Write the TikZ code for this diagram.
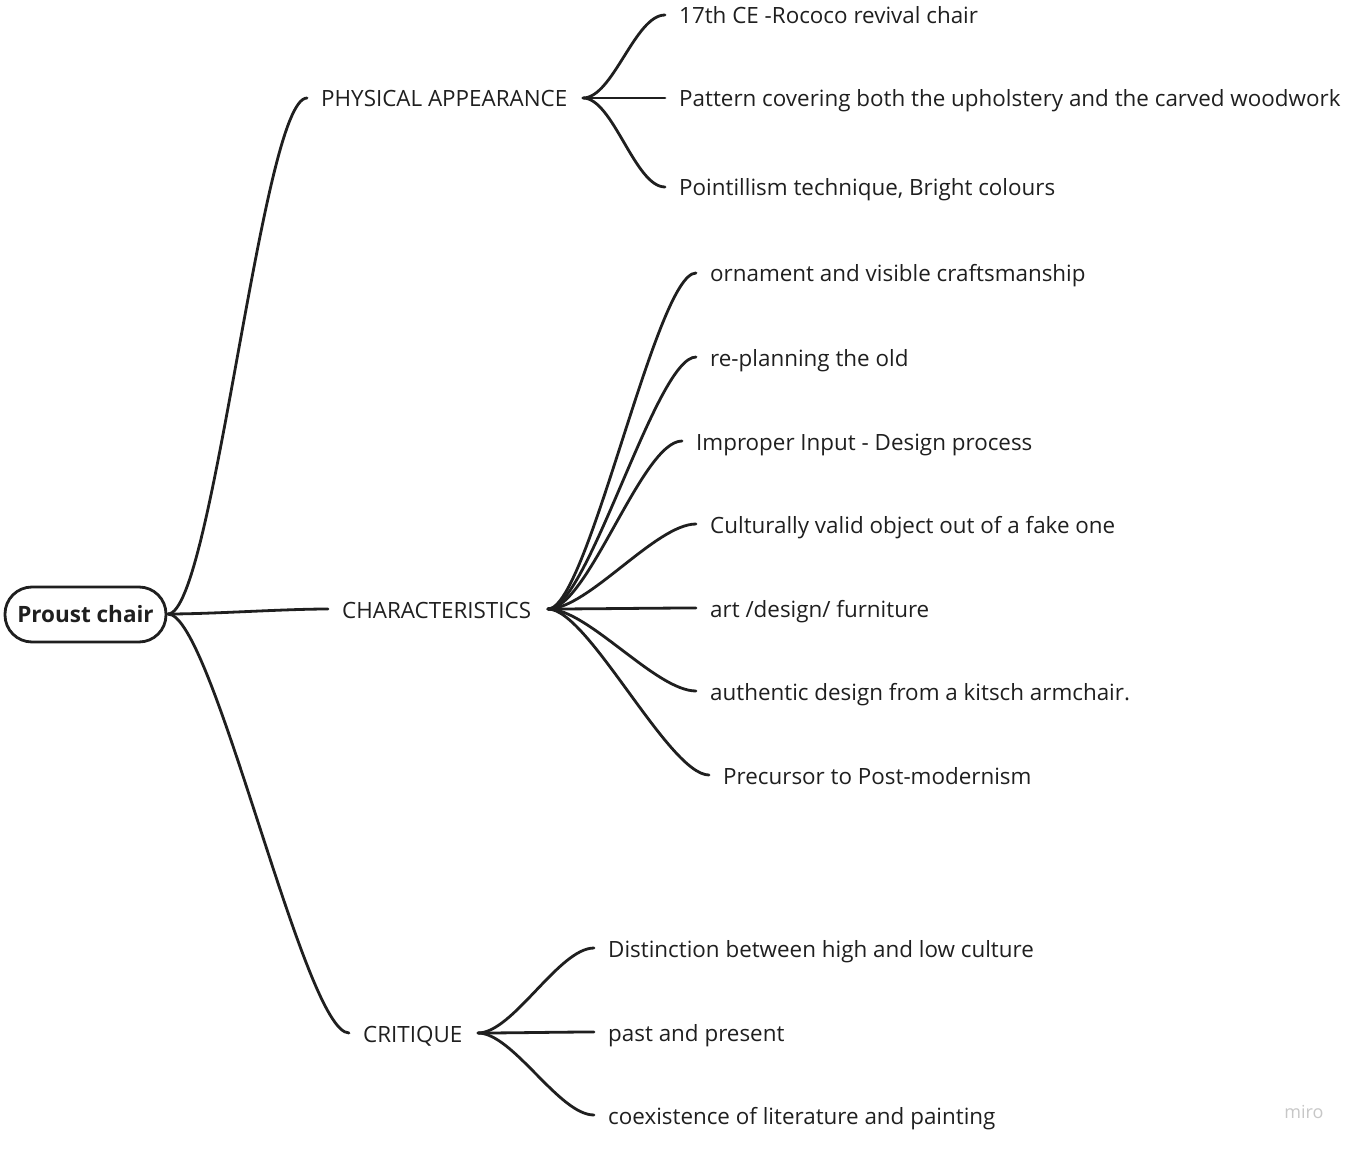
\documentclass[tikz,border=0pt]{standalone}
\usepackage{fontspec}
\setmainfont{Open Sans}
\usetikzlibrary{calc}
\definecolor{ink}{HTML}{1F1F1F}
\tikzset{
  x=1pt,y=-1pt,
  root/.style={draw=ink,line width=2.8pt,rounded corners=27pt,minimum width=161pt,minimum height=55pt,inner sep=0pt,font=\fontsize{22.5}{26}\selectfont\bfseries,text=ink},
  lvl/.style={anchor=west,inner xsep=14pt,inner ysep=0pt,font=\fontsize{22.4}{26}\selectfont,text=ink,text height=22.4pt,text depth=4.4pt},
  link/.style={draw=ink,line width=2.8pt,line cap=round},
}
\newcommand{\conn}[3][40]{\draw[link] (#2) .. controls ($(#2)+(#1,0)$) and ($(#3)-(#1,0)$) .. (#3);}
\begin{document}
\begin{tikzpicture}
\useasboundingbox (0,0) rectangle (1357,1150);
\node[root] (root) at (85.5,614.5) {Proust chair};
\coordinate (rootE) at (168,614);

\node[lvl] (pa) at (307,98) {PHYSICAL APPEARANCE};
\node[lvl] (ch) at (328,609) {CHARACTERISTICS};
\node[lvl] (cr) at (349,1033) {CRITIQUE};

\node[lvl] (pa1) at (665,15) {17th CE -Rococo revival chair};
\node[lvl] (pa2) at (665,98) {Pattern covering both the upholstery and the carved woodwork};
\node[lvl] (pa3) at (665,187) {Pointillism technique, Bright colours};

\node[lvl] (ch1) at (696,273) {ornament and visible craftsmanship};
\node[lvl] (ch2) at (696,357) {re-planning the old};
\node[lvl] (ch3) at (682,441) {Improper Input - Design process};
\node[lvl] (ch4) at (696,524) {Culturally valid object out of a fake one};
\node[lvl] (ch5) at (696,608) {art /design/ furniture};
\node[lvl] (ch6) at (696,691) {authentic design from a kitsch armchair.};
\node[lvl] (ch7) at (709,775) {Precursor to Post-modernism};

\node[lvl] (cr1) at (594,948) {Distinction between high and low culture};
\node[lvl] (cr2) at (594,1032) {past and present};
\node[lvl] (cr3) at (594,1115) {coexistence of literature and painting};

\node[font=\fontsize{18}{20}\selectfont,text=black!22] (wm) at (1304,1112) {miro};

\coordinate (paE) at (583,98);
\coordinate (chE) at (548,609);
\coordinate (crE) at (478,1033);

\conn[45]{rootE}{pa.west}
\conn[45]{rootE}{ch.west}
\conn[45]{rootE}{cr.west}

\conn[30]{paE}{pa1.west}
\conn[30]{paE}{pa2.west}
\conn[30]{paE}{pa3.west}

\conn[40]{chE}{ch1.west}
\conn[40]{chE}{ch2.west}
\conn[40]{chE}{ch3.west}
\conn[40]{chE}{ch4.west}
\conn[40]{chE}{ch5.west}
\conn[40]{chE}{ch6.west}
\conn[40]{chE}{ch7.west}

\conn[35]{crE}{cr1.west}
\conn[35]{crE}{cr2.west}
\conn[35]{crE}{cr3.west}
\end{tikzpicture}
\end{document}
